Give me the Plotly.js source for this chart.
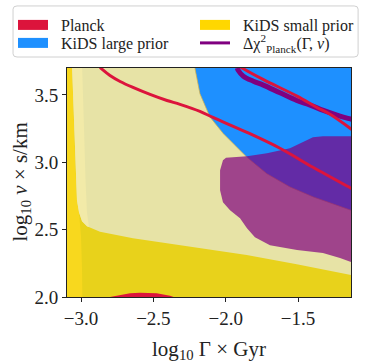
<!DOCTYPE html>
<html>
<head>
<meta charset="utf-8">
<script src="https://cdn.plot.ly/plotly-3.0.1.min.js"></script>
<style>
  html, body { margin: 0; padding: 0; background: #fff; }
  #myDiv { width: 366px; height: 363px; }
</style>
</head>
<body>
<div id="myDiv"></div>
<script>
var xTicks = [-3.0, -2.5, -2.0, -1.5];
var yTicks = [2.0, 2.5, 3.0, 3.5];

// KiDS small prior, outer region (whole panel)
var kidsOuterX = [-3.2, -1.0, -1.0, -3.2];
var kidsOuterY = [1.9, 1.9, 3.8, 3.8];

// KiDS small prior, bright strip on the left
var kidsLeftX = [-3.2, -3.065, -3.041, -3.028, -3.014, -3.0, -2.993, -2.99, -3.2];
var kidsLeftY = [3.8, 3.8, 3.015, 2.719, 2.630, 2.45, 2.2, 1.9, 1.9];

// KiDS small prior, pale inner region
var kidsPaleX = [-3.065, -3.041, -3.028, -3.014, -2.993, -2.959, -2.869, -2.641, -2.406, -2.178, -1.855, -1.509, -1.134, -1.0, -1.0, -3.065];
var kidsPaleY = [3.8, 3.015, 2.719, 2.630, 2.563, 2.526, 2.484, 2.437, 2.400, 2.363, 2.311, 2.244, 2.163, 2.155, 3.8, 3.8];

// lighter band inside the pale region
var kidsLightX = [-3.065, -3.041, -3.028, -3.014, -2.993, -2.959, -2.945, -2.959, -2.969, -2.979, -2.993, -2.995];
var kidsLightY = [3.8, 3.015, 2.719, 2.630, 2.563, 2.526, 2.52, 2.630, 2.867, 3.237, 3.7, 3.8];

// KiDS large prior
var kidsLargeX = [-2.22, -2.212, -2.178, -2.109, -2.017, -1.855, -1.717, -1.556, -1.395, -1.134, -1.0, -1.0];
var kidsLargeY = [3.8, 3.694, 3.509, 3.336, 3.213, 3.039, 2.916, 2.817, 2.743, 2.644, 2.593, 3.8];

// Delta chi^2 Planck region
var chiX = [-2.019, -2.039, -2.039, -2.019, -1.970, -1.901, -1.853, -1.798, -1.694, -1.507, -1.328, -1.210, -1.134, -1.0, -1.0, -1.134, -1.328, -1.397, -1.466, -1.556, -1.715, -1.853, -1.950, -1.998];
var chiY = [3.015, 2.941, 2.793, 2.704, 2.644, 2.585, 2.511, 2.444, 2.385, 2.348, 2.326, 2.289, 2.259, 2.24, 3.193, 3.193, 3.193, 3.185, 3.148, 3.104, 3.067, 3.044, 3.037, 3.033];

// Delta chi^2 Planck narrow band (top right)
var chiBandX = [-1.92, -1.913, -1.878, -1.809, -1.740, -1.625, -1.509, -1.417, -1.325, -1.210, -1.129, -1.10];
var chiBandY = [3.70, 3.681, 3.639, 3.602, 3.573, 3.516, 3.459, 3.425, 3.385, 3.343, 3.319, 3.31];

// Planck contours
var planckAX = [-2.869, -2.800, -2.730, -2.641, -2.523, -2.406, -2.316, -2.178, -2.088, -1.853, -1.625, -1.397, -1.134, -1.10];
var planckAY = [3.704, 3.644, 3.600, 3.556, 3.504, 3.459, 3.430, 3.378, 3.333, 3.222, 3.104, 2.963, 2.807, 2.787];
var planckBX = [-1.901, -1.880, -1.742, -1.507, -1.369, -1.279, -1.129, -1.10];
var planckBY = [3.711, 3.696, 3.615, 3.491, 3.407, 3.356, 3.244, 3.22];
var planckBumpX = [-2.80, -2.777, -2.730, -2.661, -2.592, -2.477, -2.385, -2.36, -2.36, -2.80];
var planckBumpY = [2.0, 2.004, 2.0148, 2.027, 2.032, 2.027, 2.01, 2.0, 1.95, 1.95];

var fnt = 'Liberation Serif, Times New Roman, serif';
var pad = '\u00A0\u00A0';

function region(x, y, color, lineColor, lineWidth) {
  return {
    x: x, y: y, type: 'scatter', mode: 'lines', fill: 'toself',
    fillcolor: color,
    line: {color: lineColor || color, width: lineWidth || 0},
    showlegend: false, hoverinfo: 'skip'
  };
}
function curve(x, y, color, width) {
  return {
    x: x, y: y, type: 'scatter', mode: 'lines',
    line: {color: color, width: width, shape: 'spline'},
    showlegend: false, hoverinfo: 'skip'
  };
}
function legendItem(name, color, width, leg) {
  return {
    x: [null], y: [null], type: 'scatter', mode: 'lines', name: pad + name,
    line: {color: color, width: width}, showlegend: true, legend: leg
  };
}

var data = [
  region(kidsOuterX, kidsOuterY, '#E8D21B'),
  region(kidsLeftX, kidsLeftY, '#F8D81E'),
  region(kidsPaleX, kidsPaleY, '#E7E3A6'),
  region(kidsLightX, kidsLightY, '#F2EAA8'),
  region(kidsLargeX, kidsLargeY, '#1E90FF', 'rgba(215,175,70,0.9)', 0.8),
  region(planckBumpX, planckBumpY, '#DC143C'),
  region(chiX, chiY, 'rgba(128,0,128,0.7)'),
  curve(planckAX, planckAY, '#DC143C', 3),
  curve(chiBandX, chiBandY, '#800080', 5),
  curve(planckBX, planckBY, '#DC143C', 3),
  legendItem('Planck', '#DC143C', 10, 'legend'),
  legendItem('KiDS small prior', '#FFD700', 10, 'legend2'),
  legendItem('KiDS large prior', '#1E90FF', 10, 'legend3'),
  legendItem('Δχ<sup>2</sup><sub>Planck</sub>(Γ, <i>v</i>)', '#800080', 3, 'legend4')
];

function legendAt(px, py) {
  return {
    orientation: 'v',
    xref: 'container', yref: 'container',
    x: px / 366, y: 1 - py / 363,
    xanchor: 'left', yanchor: 'top',
    bgcolor: 'rgba(0,0,0,0)', borderwidth: 0,
    font: {family: fnt, size: 16, color: '#222'}
  };
}

var layout = {
  width: 366, height: 363,
  margin: {l: 67, r: 15, t: 68, b: 66, autoexpand: false},
  paper_bgcolor: '#ffffff',
  plot_bgcolor: '#ffffff',
  font: {family: fnt, color: '#222', size: 19},
  showlegend: true,
  xaxis: {
    range: [-3.097, -1.134], autorange: false,
    tickvals: xTicks, tickformat: '.1f',
    ticks: 'outside', ticklen: 4, tickwidth: 1, tickcolor: '#222',
    showline: true, linecolor: '#222', linewidth: 1, mirror: true,
    showgrid: false, zeroline: false,
    tickfont: {size: 19},
    title: {text: 'log<sub>10</sub> Γ × Gyr', font: {size: 21}}
  },
  yaxis: {
    range: [2.0, 3.7], autorange: false,
    tickvals: yTicks, tickformat: '.1f',
    ticks: 'outside', ticklen: 4, tickwidth: 1, tickcolor: '#222',
    showline: true, linecolor: '#222', linewidth: 1, mirror: true,
    showgrid: false, zeroline: false,
    tickfont: {size: 19}
  },
  annotations: [{
    text: 'log<sub>10</sub> <i>v</i> × s/km',
    xref: 'paper', yref: 'paper', x: (20 - 67) / 284, y: 0.5,
    xanchor: 'center', yanchor: 'middle', textangle: -90,
    showarrow: false, font: {family: fnt, size: 21, color: '#222'}
  }],
  legend: legendAt(13, 8),
  legend2: legendAt(195, 8),
  legend3: legendAt(13, 26),
  legend4: legendAt(195, 26),
  shapes: [{
    type: 'path', xref: 'paper', yref: 'paper', layer: 'below',
    path: 'M -0.176,1.048 L 1.011,1.048 Q 1.025,1.048 1.025,1.062 L 1.025,1.257 Q 1.025,1.271 1.011,1.271 L -0.176,1.271 Q -0.190,1.271 -0.190,1.257 L -0.190,1.062 Q -0.190,1.048 -0.176,1.048 Z',
    fillcolor: '#ffffff', line: {color: '#d0d0d0', width: 1}
  }]
};

Plotly.newPlot('myDiv', data, layout, {displayModeBar: false, staticPlot: true});
</script>
</body>
</html>
